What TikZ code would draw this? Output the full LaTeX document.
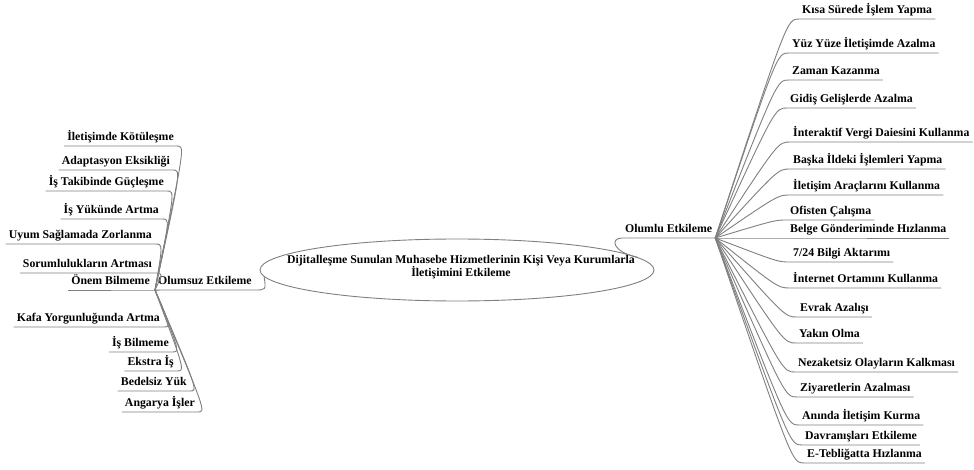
\documentclass[tikz,border=0pt]{standalone}
\usepackage{fontspec}
\setmainfont{Liberation Serif}
\usetikzlibrary{shapes.geometric,calc}
\newcommand{\RItem}[4]{%
  \node[ritem] (#1) at (#2,#3) {#4};
  \draw[conn] (hubR) .. controls ($(#1.south west)+(-12,0)$) .. (#1.south west) -- (#1.south east);}
\newcommand{\LItem}[4]{%
  \node[litem] (#1) at (#2,#3) {#4};
  \draw[conn] (hubL) .. controls ($(#1.south east)+(8,0)$) .. (#1.south east) -- (#1.south west);}
\begin{document}
\begin{tikzpicture}[x=1pt,y=-1pt,
  lbl/.style={font=\fontsize{11.8}{14}\selectfont\bfseries, inner xsep=3pt, inner ysep=0.5pt, text height=8.5pt, text depth=4.5pt},
  ritem/.style={lbl, anchor=south west},
  litem/.style={lbl, anchor=south east},
  conn/.style={draw=black!50, line width=0.9pt, line join=round}]
\useasboundingbox (0,0) rectangle (974,470);
\fill[white] (0,0) rectangle (974,470);

% centre
\node[ellipse, draw=black!50, line width=0.9pt, minimum width=394pt, minimum height=62pt, inner sep=0pt] (center) at (457,270) {};
\node[font=\fontsize{11.8}{13.5}\selectfont\bfseries, align=center, inner sep=0pt] (ctext) at (461,267)
  {Dijitalleşme Sunulan Muhasebe Hizmetlerinin Kişi Veya Kurumlarla\\İletişimini Etkileme};

% main branches
\node[ritem] (olumlu) at (622,238) {Olumlu Etkileme};
\node[ritem] (olumsuz) at (155,290) {Olumsuz Etkileme};
\coordinate (hubR) at (olumlu.south east);
\coordinate (hubL) at (olumsuz.south west);
\draw[conn] (center.4) .. controls (612,252) and (610,238) .. (olumlu.south west) -- (olumlu.south east);
\draw[conn] (olumsuz.south west) -- (olumsuz.south east) .. controls (266,290) .. (center.182);

% positive effects
\RItem{r1}{799}{19}{Kısa Sürede İşlem Yapma}
\RItem{r2}{789}{53}{Yüz Yüze İletişimde Azalma}
\RItem{r3}{789}{80}{Zaman Kazanma}
\RItem{r4}{787}{108}{Gidiş Gelişlerde Azalma}
\RItem{r5}{790}{142}{İnteraktif Vergi Daiesini Kullanma}
\RItem{r6}{790}{169}{Başka İldeki İşlemleri Yapma}
\RItem{r7}{790}{195}{İletişim Araçlarını Kullanma}
\RItem{r8}{787}{220}{Ofisten Çalışma}
\RItem{r9}{787}{238}{Belge Gönderiminde Hızlanma}
\RItem{r10}{790}{262}{7/24 Bilgi Aktarımı}
\RItem{r11}{790}{288}{İnternet Ortamını Kullanma}
\RItem{r12}{797}{317}{Evrak Azalışı}
\RItem{r13}{796}{343}{Yakın Olma}
\RItem{r14}{795}{372}{Nezaketsiz Olayların Kalkması}
\RItem{r15}{797}{397}{Ziyaretlerin Azalması}
\RItem{r16}{799}{425}{Anında İletişim Kurma}
\RItem{r17}{802}{445}{Davranışları Etkileme}
\RItem{r18}{804}{463}{E-Tebliğatta Hızlanma}

% negative effects
\LItem{l1}{177}{146}{İletişimde Kötüleşme}
\LItem{l2}{173}{170}{Adaptasyon Eksikliği}
\LItem{l3}{167}{191}{İş Takibinde Güçleşme}
\LItem{l4}{162}{219}{İş Yükünde Artma}
\LItem{l5}{155}{244}{Uyum Sağlamada Zorlanma}
\LItem{l6}{155}{273}{Sorumlulukların Artması}
\LItem{l7}{153}{290}{Önem Bilmeme}
\LItem{l8}{163}{327}{Kafa Yorgunluğunda Artma}
\LItem{l9}{172}{352}{İş Bilmeme}
\LItem{l10}{177}{371}{Ekstra İş}
\LItem{l11}{190}{391}{Bedelsiz Yük}
\LItem{l12}{198}{412}{Angarya İşler}
\end{tikzpicture}
\end{document}
